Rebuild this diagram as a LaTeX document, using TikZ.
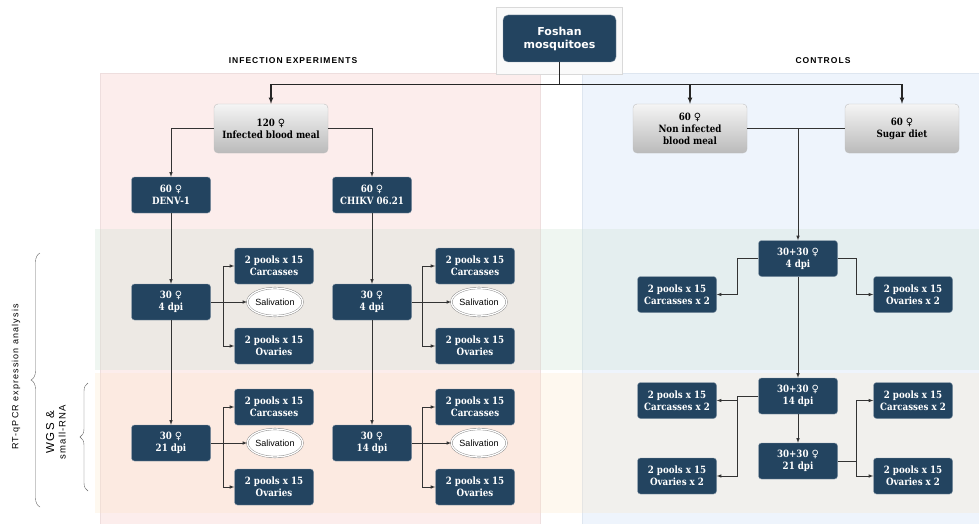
\documentclass[tikz,border=0pt]{standalone}
\usepackage{fontspec}
\setmainfont{DejaVu Serif}
\newfontfamily\boxfont[FakeStretch=0.87]{DejaVu Serif}
\newfontfamily\titlefont{DejaVu Sans}
\newfontfamily\symfont{DejaVu Sans}
\newfontfamily\labelfont[LetterSpace=12]{Liberation Sans}
\newfontfamily\salfont{Liberation Sans}
\usepackage{tikz}
\usetikzlibrary{arrows,shapes,decorations.pathreplacing}
\definecolor{boxblue}{RGB}{35,68,96}
\definecolor{pinkbg}{RGB}{252,237,236}
\definecolor{pinkbd}{RGB}{238,222,222}
\definecolor{bluebg}{RGB}{238,244,252}
\definecolor{bluebd}{RGB}{222,230,240}
\definecolor{greenband}{RGB}{205,227,211}
\definecolor{orangeband}{RGB}{252,229,195}
\newcommand{\fem}{{\symfont\mdseries ♀}}

\begin{document}
\begin{tikzpicture}[x=1pt, y=-1pt, >=latex,
    dbox/.style={rectangle, rounded corners=3pt, fill=boxblue, draw=boxblue!55!white,
      text=white, align=center, inner sep=1pt, minimum width=79pt, minimum height=36pt,
      font=\boxfont\bfseries\fontsize{10}{12}\selectfont},
    gbox/.style={rectangle, rounded corners=4pt, top color=black!4, bottom color=black!27,
      draw=black!25, text=black, align=center, inner sep=1pt, minimum width=114pt,
      minimum height=49pt, font=\boxfont\bfseries\fontsize{10}{12}\selectfont},
    sal/.style={ellipse, draw=black!50, double=white, double distance=1.3pt, fill=white,
      inner sep=0pt, minimum width=50pt, minimum height=28pt,
      font=\salfont\fontsize{9}{10}\selectfont},
    link/.style={draw=black!80, line width=0.6pt},
    trunk/.style={draw=black!85, line width=1.1pt},
    head/.style={font=\labelfont\bfseries\fontsize{8.5}{10}\selectfont}]
  \useasboundingbox (0,0) rectangle (979,524);
  %% panels and bands
  \fill[white] (0,0) rectangle (979,524);
  \filldraw[fill=pinkbg, draw=pinkbd] (100,73) rectangle (540,524);
  \filldraw[fill=bluebg, draw=bluebd] (582,73) rectangle (979,524);
  \fill[greenband, opacity=.3] (95,229) rectangle (979,370);
  \fill[orangeband, opacity=.25] (95,373) rectangle (979,513);
  \filldraw[fill=black!2, draw=black!15] (496,7) rectangle (622,74);
  %% headings and side labels
  \node[head] (hinf) at (293,61) {INFECTION EXPERIMENTS};
  \node[head] (hctl) at (823,61) {CONTROLS};
  \node[rotate=90, font=\labelfont\fontsize{9}{10}\selectfont] (rtq) at (16,377) {RT-qPCR expression analysis};
  \node[rotate=90, align=center, font=\labelfont\fontsize{9.5}{11.5}\selectfont] (wgs) at (56,432)
    {{\fontsize{11.5}{12}\selectfont WGS \&}\\small-RNA};
  \draw[black!60, decorate, decoration={brace, amplitude=9pt}] (40,507) -- (40,253);
  \draw[black!60, decorate, decoration={brace, amplitude=8pt}] (88,491) -- (88,383);
  %% nodes
  \node[dbox, minimum width=113pt, minimum height=47pt, rounded corners=5pt,
    font=\titlefont\bfseries\fontsize{11}{13}\selectfont] (foshan) at (559.5,38.5) {Foshan\\mosquitoes};
  \node[gbox] (infected) at (271,128.5) {120 \fem\\Infected blood meal};
  \node[gbox] (noninf) at (690,128.5) {60 \fem\\Non infected\\blood meal};
  \node[gbox] (sugar) at (902,128.5) {60 \fem\\Sugar diet};
  \node[dbox] (denv) at (171,195) {60 \fem\\DENV-1};
  \node[dbox] (chikv) at (372,195) {60 \fem\\CHIKV 06.21};
  \node[dbox] (d4a) at (171,302) {30 \fem\\4 dpi};
  \node[dbox] (d4b) at (372,302) {30 \fem\\4 dpi};
  \node[dbox] (d21a) at (171,443) {30 \fem\\21 dpi};
  \node[dbox] (d14b) at (372,443) {30 \fem\\14 dpi};
  \node[dbox] (carcA) at (274,266) {2 pools x 15\\Carcasses};
  \node[sal] (salA) at (275,302) {Salivation};
  \node[dbox] (ovA) at (274,346) {2 pools x 15\\Ovaries};
  \node[dbox] (carcB) at (475,266) {2 pools x 15\\Carcasses};
  \node[sal] (salB) at (479,302) {Salivation};
  \node[dbox] (ovB) at (475,346) {2 pools x 15\\Ovaries};
  \node[dbox] (carcA2) at (274,407) {2 pools x 15\\Carcasses};
  \node[sal] (salA2) at (275,443) {Salivation};
  \node[dbox] (ovA2) at (274,487) {2 pools x 15\\Ovaries};
  \node[dbox] (carcB2) at (475,407) {2 pools x 15\\Carcasses};
  \node[sal] (salB2) at (479,443) {Salivation};
  \node[dbox] (ovB2) at (475,487) {2 pools x 15\\Ovaries};
  \node[dbox] (d4c) at (798,258.5) {30+30 \fem\\4 dpi};
  \node[dbox] (d14c) at (798,396) {30+30 \fem\\14 dpi};
  \node[dbox] (d21c) at (798,461) {30+30 \fem\\21 dpi};
  \node[dbox] (carcC) at (677,294.5) {2 pools x 15\\Carcasses x 2};
  \node[dbox] (ovC) at (913,294.5) {2 pools x 15\\Ovaries x 2};
  \node[dbox] (carcD) at (677,400.5) {2 pools x 15\\Carcasses x 2};
  \node[dbox] (ovD) at (677,476) {2 pools x 15\\Ovaries x 2};
  \node[dbox] (carcE) at (913,400.5) {2 pools x 15\\Carcasses x 2};
  \node[dbox] (ovE) at (913,476) {2 pools x 15\\Ovaries x 2};
  \coordinate (jA) at (223,302);
  \coordinate (jB) at (422,302);
  \coordinate (jA2) at (223,443);
  \coordinate (jB2) at (422,443);
  %% connectors
  \draw[trunk] (foshan.south) -- ++(0,22) coordinate (split);
  \draw[trunk,->] (split) -| (infected.north);
  \draw[trunk,->] (split) -| (noninf.north);
  \draw[trunk,->] (split) -| (sugar.north);
  \draw[link,->] (infected.west) -| (denv.north);
  \draw[link,->] (infected.east) -| (chikv.north);
  \draw[link,->] (denv) -- (d4a);
  \draw[link,->] (d4a) -- (d21a);
  \draw[link,->] (chikv) -- (d4b);
  \draw[link,->] (d4b) -- (d14b);
  \draw[link,->] (d4a) -- (salA);
  \draw[link,->] (jA) |- (carcA);
  \draw[link,->] (jA) |- (ovA);
  \draw[link,->] (d4b) -- (salB);
  \draw[link,->] (jB) |- (carcB);
  \draw[link,->] (jB) |- (ovB);
  \draw[link,->] (d21a) -- (salA2);
  \draw[link,->] (jA2) |- (carcA2);
  \draw[link,->] (jA2) |- (ovA2);
  \draw[link,->] (d14b) -- (salB2);
  \draw[link,->] (jB2) |- (carcB2);
  \draw[link,->] (jB2) |- (ovB2);
  \draw[link] (noninf.east) -- (sugar.west);
  \draw[link,->] (noninf.east -| d4c.north) -- (d4c.north);
  \draw[link,->] (d4c.west) -- ++(-21,0) |- (carcC.east);
  \draw[link,->] (d4c.east) -- ++(19,0) |- (ovC.west);
  \draw[link,->] (d4c) -- (d14c);
  \draw[link,->] (d14c.west) -- ++(-21,0) |- (carcD.east);
  \draw[link,->] (d14c.west) -- ++(-21,0) |- (ovD.east);
  \draw[link,->] (d14c) -- (d21c);
  \draw[link,->] (d21c.east) -- ++(19,0) |- (carcE.west);
  \draw[link,->] (d21c.east) -- ++(19,0) |- (ovE.west);
\end{tikzpicture}
\end{document}
